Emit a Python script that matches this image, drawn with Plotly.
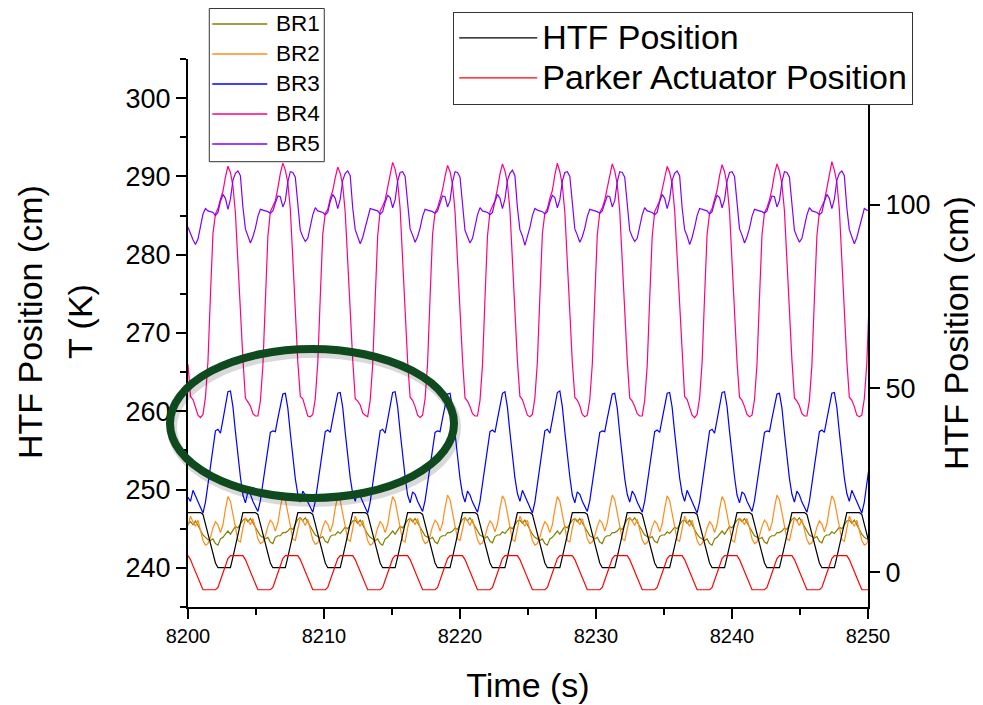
import numpy as np
import plotly.graph_objects as go

# logged data: one sample every DT seconds from 8200 s
T_START = 8200.0
DT = 0.1835
N = 274
time_s = np.round(T_START + DT * np.arange(N), 4)

# bed temperatures (K), one row per HTF cycle
br1 = [
    245.6, 245.9, 245.5, 246.0, 245.4, 244.8, 244.2, 243.9, 243.6, 243.5, 243.7, 243.1, 242.9, 243.7, 243.9, 244.3, 244.7, 244.3, 244.9, 245.3, 245.1, 245.7,
    246.1, 246.3, 245.9, 246.3, 245.7, 245.1, 244.5, 244.1, 243.9, 243.7, 243.9, 243.3, 243.1, 243.9, 244.1, 244.1, 244.5, 244.5, 244.7, 245.1, 244.9, 245.5,
    246.2, 246.4, 246.0, 246.4, 245.8, 245.2, 244.6, 244.2, 244.0, 243.8, 244.0, 243.4, 243.2, 244.0, 244.2, 244.2, 244.6, 244.4, 244.8, 245.2, 245.0, 245.6,
    246.0, 246.1, 245.7, 246.1, 245.5, 244.9, 244.3, 243.9, 243.7, 243.5, 243.7, 243.1, 242.9, 243.7, 243.9, 244.3, 244.7, 244.3, 244.9, 245.3, 245.1, 245.7,
    246.1, 246.3, 245.9, 246.3, 245.7, 245.1, 244.5, 244.1, 243.9, 243.7, 243.9, 243.3, 243.1, 243.9, 244.1, 244.1, 244.5, 244.5, 244.7, 245.1, 244.9, 245.5,
    246.2, 246.4, 246.0, 246.4, 245.8, 245.2, 244.6, 244.2, 244.0, 243.8, 244.0, 243.4, 243.2, 244.0, 244.2, 244.2, 244.6, 244.4, 244.8, 245.2, 245.0, 245.6,
    246.0, 246.1, 245.7, 246.1, 245.5, 244.9, 244.3, 243.9, 243.7, 243.5, 243.7, 243.1, 242.9, 243.7, 243.9, 244.3, 244.7, 244.3, 244.9, 245.3, 245.1, 245.7,
    246.1, 246.3, 245.9, 246.3, 245.7, 245.1, 244.5, 244.1, 243.9, 243.7, 243.9, 243.3, 243.1, 243.9, 244.1, 244.1, 244.5, 244.5, 244.7, 245.1, 244.9, 245.5,
    246.2, 246.4, 246.0, 246.4, 245.8, 245.2, 244.6, 244.2, 244.0, 243.8, 244.0, 243.4, 243.2, 244.0, 244.2, 244.2, 244.6, 244.4, 244.8, 245.2, 245.0, 245.6,
    246.0, 246.1, 245.7, 246.1, 245.5, 244.9, 244.3, 243.9, 243.7, 243.5, 243.7, 243.1, 242.9, 243.7, 243.9, 244.3, 244.7, 244.3, 244.9, 245.3, 245.1, 245.7,
    246.1, 246.3, 245.9, 246.3, 245.7, 245.1, 244.5, 244.1, 243.9, 243.7, 243.9, 243.3, 243.1, 243.9, 244.1, 244.1, 244.5, 244.5, 244.7, 245.1, 244.9, 245.5,
    246.2, 246.4, 246.0, 246.4, 245.8, 245.2, 244.6, 244.2, 244.0, 243.8, 244.0, 243.4, 243.2, 244.0, 244.2, 244.2, 244.6, 244.4, 244.8, 245.2, 245.0, 245.6,
    246.0, 246.1, 245.7, 246.1, 245.5, 244.9, 244.3, 243.9, 243.7, 243.5,
]
br2 = [
    245.4, 246.6, 245.9, 245.3, 246.1, 244.8, 243.5, 242.9, 243.1, 243.9, 245.1, 245.9, 245.5, 244.5, 245.5, 247.5, 249.1, 248.5, 246.9, 244.9, 243.5, 243.3,
    245.1, 246.3, 246.1, 245.5, 246.3, 245.1, 243.7, 243.1, 243.3, 244.1, 245.3, 246.1, 245.7, 244.7, 245.7, 247.7, 249.3, 248.7, 247.1, 245.1, 243.7, 243.5,
    245.0, 246.4, 246.0, 245.4, 246.2, 245.0, 243.6, 243.0, 243.2, 244.0, 245.2, 246.0, 245.6, 244.6, 245.6, 247.6, 249.2, 248.6, 247.0, 245.0, 243.6, 243.4,
    245.2, 246.6, 245.9, 245.3, 246.1, 244.8, 243.5, 242.9, 243.1, 243.9, 245.1, 245.9, 245.5, 244.5, 245.5, 247.5, 249.1, 248.5, 246.9, 244.9, 243.5, 243.3,
    245.1, 246.3, 246.1, 245.5, 246.3, 245.1, 243.7, 243.1, 243.3, 244.1, 245.3, 246.1, 245.7, 244.7, 245.7, 247.7, 249.3, 248.7, 247.1, 245.1, 243.7, 243.5,
    245.0, 246.4, 246.0, 245.4, 246.2, 245.0, 243.6, 243.0, 243.2, 244.0, 245.2, 246.0, 245.6, 244.6, 245.6, 247.6, 249.2, 248.6, 247.0, 245.0, 243.6, 243.4,
    245.2, 246.6, 245.9, 245.3, 246.1, 244.8, 243.5, 242.9, 243.1, 243.9, 245.1, 245.9, 245.5, 244.5, 245.5, 247.5, 249.1, 248.5, 246.9, 244.9, 243.5, 243.3,
    245.1, 246.3, 246.1, 245.5, 246.3, 245.1, 243.7, 243.1, 243.3, 244.1, 245.3, 246.1, 245.7, 244.7, 245.7, 247.7, 249.3, 248.7, 247.1, 245.1, 243.7, 243.5,
    245.0, 246.4, 246.0, 245.4, 246.2, 245.0, 243.6, 243.0, 243.2, 244.0, 245.2, 246.0, 245.6, 244.6, 245.6, 247.6, 249.2, 248.6, 247.0, 245.0, 243.6, 243.4,
    245.2, 246.6, 245.9, 245.3, 246.1, 244.8, 243.5, 242.9, 243.1, 243.9, 245.1, 245.9, 245.5, 244.5, 245.5, 247.5, 249.1, 248.5, 246.9, 244.9, 243.5, 243.3,
    245.1, 246.3, 246.1, 245.5, 246.3, 245.1, 243.7, 243.1, 243.3, 244.1, 245.3, 246.1, 245.7, 244.7, 245.7, 247.7, 249.3, 248.7, 247.1, 245.1, 243.7, 243.5,
    245.0, 246.4, 246.0, 245.4, 246.2, 245.0, 243.6, 243.0, 243.2, 244.0, 245.2, 246.0, 245.6, 244.6, 245.6, 247.6, 249.2, 248.6, 247.0, 245.0, 243.6, 243.4,
    245.2, 246.6, 245.9, 245.3, 246.1, 244.8, 243.5, 242.9, 243.1, 243.9,
]
br3 = [
    249.0, 248.5, 249.9, 249.2, 248.3, 247.7, 247.0, 248.4, 250.7, 253.1, 255.6, 257.5, 257.7, 257.2, 258.9, 260.9, 262.5, 262.6, 260.6, 257.4, 254.1, 251.6,
    249.3, 248.3, 249.7, 249.4, 248.5, 247.9, 247.2, 248.6, 250.9, 253.3, 255.4, 257.3, 257.5, 257.4, 259.1, 260.7, 262.2, 262.3, 260.4, 257.2, 253.9, 251.4,
    249.4, 248.4, 249.8, 249.3, 248.4, 247.8, 247.1, 248.5, 250.8, 253.2, 255.5, 257.4, 257.6, 257.3, 259.0, 260.8, 262.3, 262.4, 260.5, 257.3, 254.0, 251.5,
    249.5, 248.5, 249.9, 249.2, 248.3, 247.7, 247.0, 248.4, 250.7, 253.1, 255.6, 257.5, 257.7, 257.2, 258.9, 260.9, 262.4, 262.5, 260.6, 257.4, 254.1, 251.6,
    249.3, 248.3, 249.7, 249.4, 248.5, 247.9, 247.2, 248.6, 250.9, 253.3, 255.4, 257.3, 257.5, 257.4, 259.1, 260.7, 262.2, 262.3, 260.4, 257.2, 253.9, 251.4,
    249.4, 248.4, 249.8, 249.3, 248.4, 247.8, 247.1, 248.5, 250.8, 253.2, 255.5, 257.4, 257.6, 257.3, 259.0, 260.8, 262.3, 262.5, 260.5, 257.3, 254.0, 251.5,
    249.5, 248.5, 249.9, 249.2, 248.3, 247.7, 247.0, 248.4, 250.7, 253.1, 255.6, 257.5, 257.7, 257.2, 258.9, 260.9, 262.4, 262.6, 260.6, 257.4, 254.1, 251.6,
    249.3, 248.3, 249.7, 249.4, 248.5, 247.9, 247.2, 248.6, 250.9, 253.3, 255.4, 257.3, 257.5, 257.4, 259.1, 260.7, 262.2, 262.3, 260.4, 257.2, 253.9, 251.4,
    249.4, 248.4, 249.8, 249.3, 248.4, 247.8, 247.1, 248.5, 250.8, 253.2, 255.5, 257.4, 257.6, 257.3, 259.0, 260.8, 262.3, 262.4, 260.5, 257.3, 254.0, 251.5,
    249.5, 248.5, 249.9, 249.2, 248.3, 247.7, 247.0, 248.4, 250.7, 253.1, 255.6, 257.5, 257.7, 257.2, 258.9, 260.9, 262.4, 262.5, 260.6, 257.4, 254.1, 251.6,
    249.3, 248.3, 249.7, 249.4, 248.5, 247.9, 247.2, 248.6, 250.9, 253.3, 255.4, 257.3, 257.5, 257.4, 259.1, 260.7, 262.2, 262.3, 260.4, 257.2, 253.9, 251.4,
    249.4, 248.4, 249.8, 249.3, 248.4, 247.8, 247.1, 248.5, 250.8, 253.2, 255.5, 257.4, 257.6, 257.3, 259.0, 260.8, 262.3, 262.4, 260.5, 257.3, 254.0, 251.5,
    249.5, 248.5, 249.9, 249.2, 248.3, 247.7, 247.0, 248.4, 250.7, 253.1,
]
br4 = [
    266.0, 261.9, 261.5, 260.4, 259.5, 259.2, 259.6, 261.8, 266.4, 274.9, 282.7, 285.2, 285.9, 287.1, 288.1, 289.9, 291.3, 290.5, 288.8, 285.3, 279.0, 272.1,
    266.7, 261.7, 261.2, 260.7, 259.7, 259.4, 259.4, 261.3, 265.8, 274.2, 282.3, 285.5, 286.1, 286.9, 288.5, 290.4, 291.7, 290.8, 289.2, 285.8, 279.5, 272.6,
    266.3, 261.9, 261.6, 260.5, 259.4, 259.3, 259.6, 261.6, 266.2, 274.6, 282.6, 285.3, 285.8, 287.2, 288.2, 289.8, 291.2, 290.4, 288.9, 285.4, 279.1, 272.3,
    266.6, 261.6, 261.3, 260.8, 259.8, 259.5, 259.3, 261.4, 265.9, 274.3, 282.4, 285.6, 286.2, 287.0, 288.6, 290.5, 291.8, 290.9, 289.3, 285.9, 279.4, 272.5,
    266.4, 261.8, 261.4, 260.6, 259.5, 259.2, 259.5, 261.6, 266.1, 274.6, 282.6, 285.4, 286.0, 287.1, 288.3, 290.0, 291.4, 290.6, 289.0, 285.5, 279.2, 272.4,
    266.6, 261.7, 261.3, 260.6, 259.7, 259.4, 259.4, 261.4, 265.9, 274.4, 282.4, 285.5, 286.1, 286.9, 288.4, 290.3, 291.6, 290.7, 289.1, 285.7, 279.3, 272.5,
    266.4, 261.9, 261.5, 260.5, 259.5, 259.3, 259.6, 261.7, 266.3, 274.7, 282.7, 285.3, 285.9, 287.2, 288.2, 290.2, 291.7, 290.6, 288.9, 285.4, 279.0, 272.2,
    266.3, 261.8, 261.4, 260.7, 259.6, 259.3, 259.5, 261.5, 266.0, 274.5, 282.5, 285.4, 286.0, 287.0, 288.4, 290.2, 291.6, 290.7, 289.0, 285.6, 279.2, 272.4,
    266.5, 261.7, 261.3, 260.6, 259.7, 259.4, 259.4, 261.4, 265.8, 274.3, 282.3, 285.5, 286.1, 286.9, 288.3, 290.0, 291.3, 290.5, 289.1, 285.7, 279.4, 272.6,
    266.6, 261.9, 261.5, 260.5, 259.5, 259.2, 259.6, 261.7, 266.2, 274.7, 282.6, 285.3, 285.9, 287.1, 288.2, 290.1, 291.5, 290.6, 288.9, 285.5, 279.1, 272.3,
    266.3, 261.8, 261.4, 260.6, 259.6, 259.3, 259.5, 261.5, 266.0, 274.5, 282.5, 285.4, 286.0, 287.0, 288.4, 290.3, 291.6, 290.7, 289.0, 285.6, 279.2, 272.4,
    266.5, 261.7, 261.3, 260.7, 259.7, 259.4, 259.4, 261.4, 265.9, 274.4, 282.4, 285.5, 286.1, 286.9, 288.5, 290.5, 291.9, 290.8, 289.2, 285.8, 279.4, 272.5,
    266.4, 261.8, 261.4, 260.6, 259.5, 259.3, 259.5, 261.6, 266.1, 274.6,
]
br5 = [
    283.5, 282.6, 281.9, 281.3, 282.0, 283.6, 285.2, 285.9, 285.6, 285.5, 285.4, 285.0, 285.4, 286.8, 287.7, 287.2, 285.8, 287.1, 289.5, 290.4, 290.7, 290.1,
    286.1, 283.3, 282.5, 281.5, 282.3, 283.4, 284.9, 285.8, 285.7, 285.6, 285.5, 285.3, 285.6, 286.6, 287.5, 287.4, 286.1, 286.9, 289.3, 290.6, 290.5, 289.9,
    285.9, 283.1, 282.3, 281.7, 282.1, 283.6, 285.1, 286.0, 285.6, 285.5, 285.4, 285.1, 285.4, 286.8, 287.7, 287.2, 285.9, 287.1, 289.5, 290.4, 290.7, 290.1,
    286.0, 283.2, 282.4, 281.4, 282.2, 283.5, 285.0, 285.9, 285.8, 285.7, 285.6, 285.2, 285.5, 286.7, 287.6, 287.3, 286.0, 287.0, 289.4, 290.5, 290.6, 290.0,
    286.1, 283.3, 282.5, 281.6, 282.3, 283.4, 284.9, 285.8, 285.7, 285.6, 285.5, 285.3, 285.6, 286.6, 287.5, 287.4, 286.1, 286.9, 289.3, 290.6, 290.5, 289.9,
    285.9, 283.1, 282.3, 281.5, 282.1, 283.6, 285.1, 286.0, 285.6, 285.5, 285.4, 285.1, 285.4, 286.8, 287.7, 287.2, 285.9, 287.1, 289.5, 290.4, 290.8, 290.1,
    286.0, 283.2, 282.4, 281.2, 282.2, 283.5, 285.0, 285.9, 285.7, 285.6, 285.5, 285.2, 285.5, 286.7, 287.6, 287.3, 286.0, 287.0, 289.4, 290.5, 290.6, 290.0,
    286.1, 283.3, 282.5, 281.6, 282.3, 283.4, 284.9, 285.8, 285.7, 285.6, 285.5, 285.3, 285.6, 286.6, 287.5, 287.4, 286.1, 286.9, 289.3, 290.6, 290.5, 289.9,
    285.9, 283.1, 282.3, 281.7, 282.1, 283.6, 285.1, 286.0, 285.6, 285.5, 285.4, 285.1, 285.4, 286.8, 287.7, 287.2, 285.9, 287.1, 289.5, 290.4, 290.7, 290.1,
    286.0, 283.2, 282.4, 281.3, 282.2, 283.5, 285.0, 285.9, 285.8, 285.7, 285.6, 285.2, 285.5, 286.7, 287.6, 287.3, 286.0, 287.0, 289.4, 290.5, 290.6, 290.0,
    286.1, 283.3, 282.5, 281.5, 282.3, 283.4, 284.9, 285.8, 285.7, 285.6, 285.5, 285.3, 285.6, 286.6, 287.5, 287.4, 286.1, 286.9, 289.3, 290.6, 290.5, 289.9,
    285.9, 283.1, 282.3, 281.6, 282.1, 283.6, 285.1, 286.0, 285.6, 285.5, 285.4, 285.1, 285.4, 286.8, 287.7, 287.2, 285.9, 287.1, 289.5, 290.4, 290.7, 290.1,
    286.0, 283.2, 282.4, 281.4, 282.2, 283.5, 285.0, 285.9, 285.7, 285.6,
]

# positions (cm)
htf_pos = [
    16.2, 16.2, 16.2, 16.2, 16.2, 16.2, 15.7, 12.9, 10.3, 7.7, 5.1, 2.5, 1.2, 1.2, 1.2, 1.2, 1.2, 1.2, 4.1, 7.1, 10.1, 13.2,
    16.2, 16.2, 16.2, 16.2, 16.2, 16.2, 15.7, 12.9, 10.3, 7.7, 5.1, 2.5, 1.2, 1.2, 1.2, 1.2, 1.2, 1.2, 4.1, 7.1, 10.1, 13.2,
    16.2, 16.2, 16.2, 16.2, 16.2, 16.2, 15.7, 12.9, 10.3, 7.7, 5.1, 2.5, 1.2, 1.2, 1.2, 1.2, 1.2, 1.2, 4.1, 7.1, 10.1, 13.2,
    16.2, 16.2, 16.2, 16.2, 16.2, 16.2, 15.7, 12.9, 10.3, 7.7, 5.1, 2.5, 1.2, 1.2, 1.2, 1.2, 1.2, 1.2, 4.1, 7.1, 10.1, 13.2,
    16.2, 16.2, 16.2, 16.2, 16.2, 16.2, 15.7, 12.9, 10.3, 7.7, 5.1, 2.5, 1.2, 1.2, 1.2, 1.2, 1.2, 1.2, 4.1, 7.1, 10.1, 13.2,
    16.2, 16.2, 16.2, 16.2, 16.2, 16.2, 15.7, 12.9, 10.3, 7.7, 5.1, 2.5, 1.2, 1.2, 1.2, 1.2, 1.2, 1.2, 4.1, 7.1, 10.1, 13.2,
    16.2, 16.2, 16.2, 16.2, 16.2, 16.2, 15.7, 12.9, 10.3, 7.7, 5.1, 2.5, 1.2, 1.2, 1.2, 1.2, 1.2, 1.2, 4.1, 7.1, 10.1, 13.2,
    16.2, 16.2, 16.2, 16.2, 16.2, 16.2, 15.7, 12.9, 10.3, 7.7, 5.1, 2.5, 1.2, 1.2, 1.2, 1.2, 1.2, 1.2, 4.1, 7.1, 10.1, 13.2,
    16.2, 16.2, 16.2, 16.2, 16.2, 16.2, 15.7, 12.9, 10.3, 7.7, 5.1, 2.5, 1.2, 1.2, 1.2, 1.2, 1.2, 1.2, 4.1, 7.1, 10.1, 13.2,
    16.2, 16.2, 16.2, 16.2, 16.2, 16.2, 15.7, 12.9, 10.3, 7.7, 5.1, 2.5, 1.2, 1.2, 1.2, 1.2, 1.2, 1.2, 4.1, 7.1, 10.1, 13.2,
    16.2, 16.2, 16.2, 16.2, 16.2, 16.2, 15.7, 12.9, 10.3, 7.7, 5.1, 2.5, 1.2, 1.2, 1.2, 1.2, 1.2, 1.2, 4.1, 7.1, 10.1, 13.2,
    16.2, 16.2, 16.2, 16.2, 16.2, 16.2, 15.7, 12.9, 10.3, 7.7, 5.1, 2.5, 1.2, 1.2, 1.2, 1.2, 1.2, 1.2, 4.1, 7.1, 10.1, 13.2,
    16.2, 16.2, 16.2, 16.2, 16.2, 16.2, 15.7, 12.9, 10.3, 7.7,
]
parker_pos = [
    4.5, 3.4, 1.7, 0.0, -1.7, -3.5, -4.8, -4.8, -4.8, -4.8, -4.8, -4.8, -4.2, -2.3, -0.3, 1.7, 3.7, 4.5, 4.5, 4.5, 4.5, 4.5,
    4.5, 3.4, 1.7, 0.0, -1.7, -3.5, -4.8, -4.8, -4.8, -4.8, -4.8, -4.8, -4.2, -2.3, -0.3, 1.7, 3.7, 4.5, 4.5, 4.5, 4.5, 4.5,
    4.5, 3.4, 1.7, 0.0, -1.7, -3.5, -4.8, -4.8, -4.8, -4.8, -4.8, -4.8, -4.2, -2.3, -0.3, 1.7, 3.7, 4.5, 4.5, 4.5, 4.5, 4.5,
    4.5, 3.4, 1.7, 0.0, -1.7, -3.5, -4.8, -4.8, -4.8, -4.8, -4.8, -4.8, -4.2, -2.3, -0.3, 1.7, 3.7, 4.5, 4.5, 4.5, 4.5, 4.5,
    4.5, 3.4, 1.7, 0.0, -1.7, -3.5, -4.8, -4.8, -4.8, -4.8, -4.8, -4.8, -4.2, -2.3, -0.3, 1.7, 3.7, 4.5, 4.5, 4.5, 4.5, 4.5,
    4.5, 3.4, 1.7, 0.0, -1.7, -3.5, -4.8, -4.8, -4.8, -4.8, -4.8, -4.8, -4.2, -2.3, -0.3, 1.7, 3.7, 4.5, 4.5, 4.5, 4.5, 4.5,
    4.5, 3.4, 1.7, 0.0, -1.7, -3.5, -4.8, -4.8, -4.8, -4.8, -4.8, -4.8, -4.2, -2.3, -0.3, 1.7, 3.7, 4.5, 4.5, 4.5, 4.5, 4.5,
    4.5, 3.4, 1.7, 0.0, -1.7, -3.5, -4.8, -4.8, -4.8, -4.8, -4.8, -4.8, -4.2, -2.3, -0.3, 1.7, 3.7, 4.5, 4.5, 4.5, 4.5, 4.5,
    4.5, 3.4, 1.7, 0.0, -1.7, -3.5, -4.8, -4.8, -4.8, -4.8, -4.8, -4.8, -4.2, -2.3, -0.3, 1.7, 3.7, 4.5, 4.5, 4.5, 4.5, 4.5,
    4.5, 3.4, 1.7, 0.0, -1.7, -3.5, -4.8, -4.8, -4.8, -4.8, -4.8, -4.8, -4.2, -2.3, -0.3, 1.7, 3.7, 4.5, 4.5, 4.5, 4.5, 4.5,
    4.5, 3.4, 1.7, 0.0, -1.7, -3.5, -4.8, -4.8, -4.8, -4.8, -4.8, -4.8, -4.2, -2.3, -0.3, 1.7, 3.7, 4.5, 4.5, 4.5, 4.5, 4.5,
    4.5, 3.4, 1.7, 0.0, -1.7, -3.5, -4.8, -4.8, -4.8, -4.8, -4.8, -4.8, -4.2, -2.3, -0.3, 1.7, 3.7, 4.5, 4.5, 4.5, 4.5, 4.5,
    4.5, 3.4, 1.7, 0.0, -1.7, -3.5, -4.8, -4.8, -4.8, -4.8,
]

bed_names = ["BR1", "BR2", "BR3", "BR4", "BR5"]
bed_colors = ["#808000", "#FF8C1A", "#0000FF", "#FF0080", "#8000FF"]
FONT = "Liberation Sans, Arial, sans-serif"

fig = go.Figure()
for name, vals, col in zip(bed_names, [br1, br2, br3, br4, br5], bed_colors):
    fig.add_trace(go.Scatter(x=time_s[:len(vals)], y=vals, name=name, mode="lines",
                             line=dict(color=col, width=1.2), showlegend=False))

# legend2 row pitch comes from legend.font.size; the label itself is drawn larger
fig.add_trace(go.Scatter(x=time_s[:len(htf_pos)], y=htf_pos,
                         name='<span style="font-size:34px">HTF Position</span>',
                         mode="lines", line=dict(color="black", width=1.2), yaxis="y2",
                         legend="legend2"))
fig.add_trace(go.Scatter(x=time_s[:len(parker_pos)], y=parker_pos,
                         name='<span style="font-size:34px">Parker Actuator Position</span>',
                         mode="lines", line=dict(color="#FF0000", width=1.2), yaxis="y2",
                         legend="legend2"))

axis_common = dict(showgrid=False, zeroline=False, showline=True, linecolor="black", linewidth=2,
                   ticks="outside", ticklen=10, tickwidth=2, tickcolor="black", automargin=False)

# page body has an 8 px margin, so the figure is 8 px smaller than the window
fig.update_layout(
    width=975, height=697,
    margin=dict(l=180, r=115, t=51, b=98, autoexpand=False),
    template="none",
    paper_bgcolor="white", plot_bgcolor="white",
    font=dict(family=FONT, color="black"),
    xaxis=dict(range=[8200, 8250], tick0=8200, dtick=10, tickfont=dict(size=20),
               minor=dict(dtick=5, ticks="outside", ticklen=6, tickwidth=2, tickcolor="black"),
               title=dict(text="Time (s)", font=dict(size=34), standoff=27), **axis_common),
    yaxis=dict(range=[235, 305], tick0=240, dtick=10, tickfont=dict(size=27),
               minor=dict(dtick=5, ticks="outside", ticklen=6, tickwidth=2, tickcolor="black"),
               **axis_common),
    yaxis2=dict(range=[-9.5, 139.7], tickvals=[0, 50, 100], overlaying="y", side="right",
                tickfont=dict(size=27),
                title=dict(text="HTF Position (cm)", font=dict(size=34), standoff=15), **axis_common),
    legend2=dict(x=0.390, y=1.0861, xanchor="left", yanchor="top", bgcolor="white",
                 bordercolor="#333333", borderwidth=1, font=dict(size=28.5), itemwidth=78,
                 tracegroupgap=0),
    showlegend=True,
)

# BR legend box, drawn with shapes so its rows sit where the original has them
fig.add_shape(type="rect", xref="paper", yref="paper", x0=0.0313, x1=0.2004, y0=0.8126,
              y1=1.0922, line=dict(color="#333333", width=1), fillcolor="white", layer="above")
row_top, row_step = 1.0639, 0.0547
for i, (name, col) in enumerate(zip(bed_names, bed_colors)):
    yy = row_top - i * row_step
    fig.add_shape(type="line", xref="paper", yref="paper", x0=0.0357, x1=0.1166, y0=yy, y1=yy,
                  line=dict(color=col, width=1.5), layer="above")
    fig.add_annotation(text=name, xref="paper", yref="paper", x=0.1265, y=yy, xanchor="left",
                       yanchor="middle", showarrow=False, font=dict(size=22.5))

# left-side titles (two stacked labels in the original)
fig.add_annotation(text="HTF Position (cm)", xref="paper", yref="paper", x=0, y=0.52,
                   xshift=-158, textangle=-90, showarrow=False, font=dict(size=34),
                   xanchor="center", yanchor="middle")
fig.add_annotation(text="T (K)", xref="paper", yref="paper", x=0, y=0.52,
                   xshift=-108, textangle=-90, showarrow=False, font=dict(size=34),
                   xanchor="center", yanchor="middle")

# highlight ellipse with soft shadow
fig.add_shape(type="circle", xref="paper", yref="paper", x0=-0.0235, x1=0.3942,
              y0=0.1917, y1=0.4636, line=dict(color="rgba(0,0,0,0.15)", width=10),
              layer="above")
fig.add_shape(type="circle", xref="paper", yref="paper", x0=-0.0265, x1=0.3912,
              y0=0.1989, y1=0.4708, line=dict(color="#0E4A1E", width=8), layer="above")

fig.write_html("out.html")
